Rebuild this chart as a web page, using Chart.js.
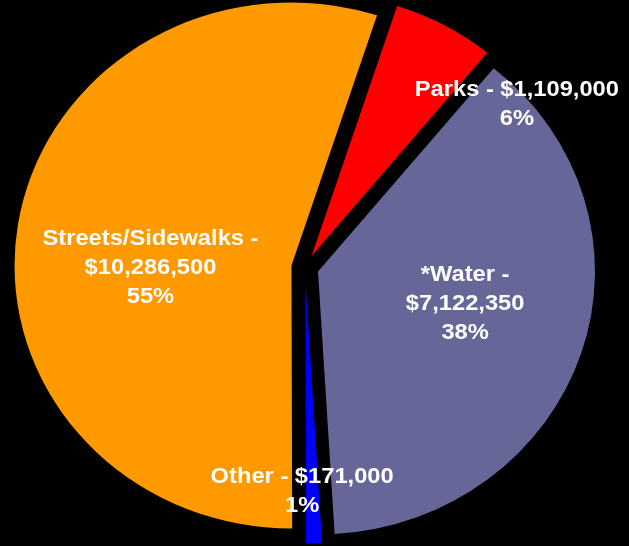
<!DOCTYPE html>
<html>
<head>
<meta charset="utf-8">
<script src="https://cdn.jsdelivr.net/npm/chart.js@4"></script>
<style>
  html, body { margin: 0; padding: 0; background: #000; }
  #wrap { width: 629px; height: 546px; position: relative; }
</style>
</head>
<body>
<div id="wrap"><canvas id="chartPie"></canvas></div>
<script>
var categories = ['Parks', '*Water', 'Other', 'Streets/Sidewalks'];
var amounts = [1109000, 7122350, 171000, 10286500];
var colors = ['#FF0000', '#666699', '#0000FF', '#FF9900'];
// label wraps after the dash for these slices
var wrapAfterDash = [false, true, false, true];

var stretchX = 1.053;   // the original is slightly wider than tall
var explode = 13;
var lineGap = 29;
// label spots: angle clockwise from 12 o'clock, distance as share of radius
var labelSpots = [
    { angle: 50.6, dist: 0.99 },
    { angle: 102.8, dist: 0.593 },
    { angle: 180.7, dist: 0.845 },
    { angle: 270.6, dist: 0.558 }
];

var total = amounts.reduce(function (a, b) { return a + b; }, 0);
var fmtUSD = function (v) { return '$' + Number(v).toLocaleString('en-US'); };

function centerOf(chart) {
    var a = chart.chartArea;
    return { x: (a.left + a.right) / 2, y: (a.top + a.bottom) / 2 };
}

function stretchCtx(chart) {
    var ctx = chart.ctx;
    var c = centerOf(chart);
    ctx.save();
    ctx.translate(c.x, 0);
    ctx.scale(stretchX, 1);
    ctx.translate(-c.x, 0);
}

var explodePlugin = {
    id: 'explodeStretch',
    afterDatasetUpdate: function (chart, args) {
        args.meta.data.forEach(function (arc) {
            var mid = (arc.startAngle + arc.endAngle) / 2;
            arc.x += Math.cos(mid) * explode;
            arc.y += Math.sin(mid) * explode;
        });
    },
    beforeDatasetsDraw: function (chart) { stretchCtx(chart); },
    afterDatasetsDraw: function (chart) { chart.ctx.restore(); }
};

var labelPlugin = {
    id: 'sliceLabels',
    afterDraw: function (chart) {
        var ctx = chart.ctx;
        var c = centerOf(chart);
        var R = chart.getDatasetMeta(0).data[0].outerRadius;
        stretchCtx(chart);
        ctx.font = 'bold 22.5px "Liberation Sans", Arial, sans-serif';
        ctx.fillStyle = '#FFFFFF';
        ctx.textAlign = 'center';
        ctx.textBaseline = 'alphabetic';
        labelSpots.forEach(function (spot, i) {
            var ang = spot.angle * Math.PI / 180;
            var x = c.x + Math.sin(ang) * spot.dist * R;
            var y = c.y - Math.cos(ang) * spot.dist * R;
            var pct = Math.round(amounts[i] / total * 100) + '%';
            var lines = wrapAfterDash[i]
                ? [categories[i] + ' -', fmtUSD(amounts[i]), pct]
                : [categories[i] + ' - ' + fmtUSD(amounts[i]), pct];
            lines.forEach(function (t, j) {
                ctx.fillText(t, x, y + 8 + (j - (lines.length - 1) / 2) * lineGap);
            });
        });
        ctx.restore();
    }
};

new Chart(document.getElementById('chartPie'), {
    type: 'pie',
    data: {
        labels: categories,
        datasets: [{
            data: amounts,
            backgroundColor: colors,
            borderWidth: 0,
            radius: 263
        }]
    },
    options: {
        responsive: true,
        maintainAspectRatio: false,
        animation: false,
        rotation: 18,
        layout: { padding: { left: 0, right: 19, top: 0, bottom: 11 } },
        plugins: {
            legend: { display: false },
            tooltip: { enabled: false }
        }
    },
    plugins: [explodePlugin, labelPlugin]
});
</script>
</body>
</html>
